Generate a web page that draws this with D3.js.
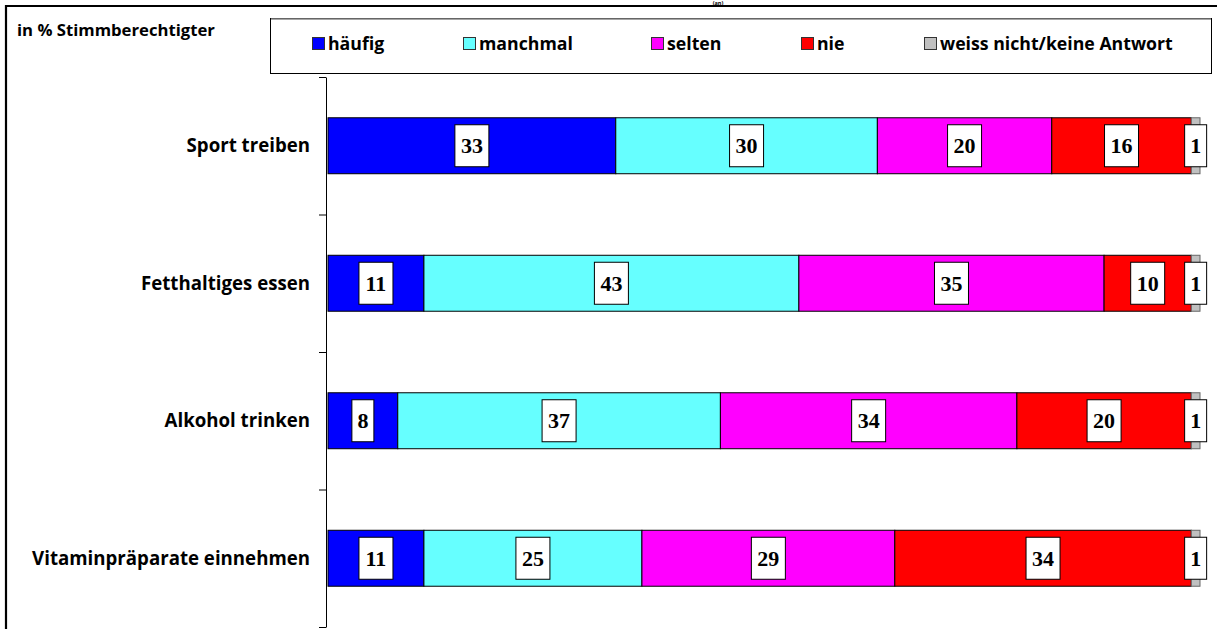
<!DOCTYPE html>
<html>
<head>
<meta charset="utf-8">
<script src="https://cdn.jsdelivr.net/npm/d3@7/dist/d3.min.js"></script>
<style>
  html, body { margin: 0; padding: 0; background: #fff; }
  svg { display: block; }
</style>
</head>
<body>
<svg id="chart" width="1217" height="629"></svg>
<script>
// ---- data ----
const categories = ["Sport treiben", "Fetthaltiges essen", "Alkohol trinken", "Vitaminpräparate einnehmen"];
const seriesNames = ["häufig", "manchmal", "selten", "nie", "weiss nicht/keine Antwort"];
const haeufig   = [33, 11, 8, 11];
const manchmal  = [30, 43, 37, 25];
const selten    = [20, 35, 34, 29];
const nie       = [16, 10, 20, 34];
const weissNicht = [1, 1, 1, 1];
const seriesColors = ["#0000ff", "#66ffff", "#ff00ff", "#ff0000", "#c0c0c0"];
const yAxisNote = "in % Stimmberechtigter";
const cutTitle = "(an)";

// ---- build table ----
const seriesValues = [haeufig, manchmal, selten, nie, weissNicht];
const table = categories.map((c, i) => {
  const row = { cat: c };
  seriesNames.forEach((s, j) => row[s] = seriesValues[j][i]);
  return row;
});
const stack = d3.stack().keys(seriesNames)(table);

const svg = d3.select("#chart");
const W = 1217, H = 629;
const FONT = "'Open Sans', sans-serif";

// fit a text element to a target width by adjusting font-size
function fitWidth(sel, target) {
  const n = sel.node();
  const fs = parseFloat(sel.attr("font-size"));
  const w = n.getComputedTextLength();
  if (w > 0) sel.attr("font-size", (fs * target / w).toFixed(2));
  return sel;
}

// small title remnant at the top edge
svg.append("text").attr("x", 718).attr("y", 5).attr("text-anchor", "middle")
  .attr("font-family", FONT).attr("font-weight", "bold").attr("font-size", 5.5)
  .text(cutTitle);

// outer frame
svg.append("path").attr("d", `M6,${H+2} L6,6 L${W+2},6`)
  .attr("fill", "none").attr("stroke", "#000").attr("stroke-width", 2.2);

// scales
const x = d3.scaleLinear().domain([0, 100]).range([328, 1200]);
const y = d3.scaleBand().domain(categories).range([77, 627]).paddingInner(0.593).paddingOuter(0.2965);

// axis with ticks between categories
const yTicks = d3.scaleLinear().domain([0, categories.length]).range([77, 627]);
const axis = svg.append("g").attr("transform", "translate(326,0)")
  .call(d3.axisLeft(yTicks).ticks(categories.length).tickFormat("").tickSize(7).tickSizeOuter(0));
axis.select(".domain").attr("stroke", "#000");
axis.selectAll(".tick line").attr("stroke", "#000");

// category labels
const catLabels = svg.append("g").selectAll("text").data(categories).join("text")
  .attr("x", 310).attr("y", d => y(d) + y.bandwidth() / 2)
  .attr("dy", "0.35em").attr("text-anchor", "end")
  .attr("font-family", FONT).attr("font-weight", "bold").attr("font-size", 17)
  .text(d => d);
{
  const longest = catLabels.filter(d => d === categories[3]);
  fitWidth(longest, 278);
  catLabels.attr("font-size", longest.attr("font-size"));
}

// bars
const layers = svg.append("g").selectAll("g").data(stack).join("g")
  .attr("fill", (d, i) => seriesColors[i]);
layers.selectAll("rect").data(d => d.map(v => ({ v, key: d.key }))).join("rect")
  .attr("x", d => x(d.v[0]))
  .attr("y", d => y(d.v.data.cat))
  .attr("width", d => x(d.v[1]) - x(d.v[0]))
  .attr("height", y.bandwidth())
  .attr("stroke", d => d.key === seriesNames[4] ? "#666" : "#000")
  .attr("stroke-width", 1);

// value labels
const labels = svg.append("g");
stack.forEach((layer) => {
  layer.forEach(d => {
    const val = d[1] - d[0];
    const txt = String(val);
    const bw = txt.length > 1 ? 34 : 22;
    const bh = 42;
    const cx = (x(d[0]) + x(d[1])) / 2;
    const cy = y(d.data.cat) + y.bandwidth() / 2;
    const g = labels.append("g").attr("transform", `translate(${cx},${cy})`);
    g.append("rect").attr("x", -bw / 2).attr("y", -bh / 2).attr("width", bw).attr("height", bh)
      .attr("fill", "#fff").attr("stroke", "#000").attr("stroke-width", 1);
    g.append("text").attr("text-anchor", "middle").attr("dy", "0.34em")
      .attr("font-family", "'Liberation Serif', serif").attr("font-weight", "bold").attr("font-size", 22)
      .text(txt);
  });
});

// note
fitWidth(svg.append("text").attr("x", 17).attr("y", 36)
  .attr("font-family", FONT).attr("font-weight", "bold").attr("font-size", 14)
  .text(yAxisNote), 198);

// legend
const lg = svg.append("g");
lg.append("rect").attr("x", 270.5).attr("y", 18.5).attr("width", 941).attr("height", 55)
  .attr("fill", "#fff").attr("stroke", "#000").attr("stroke-width", 1);
lg.append("line").attr("x1", 271).attr("x2", 1211).attr("y1", 19).attr("y2", 19)
  .attr("stroke", "#888").attr("stroke-width", 1.5);
const legendX = [312, 463, 651, 801, 924];
const items = lg.selectAll("g.item").data(seriesNames).join("g").attr("class", "item")
  .attr("transform", (d, i) => `translate(${legendX[i]},37)`);
items.append("rect").attr("x", 0.5).attr("y", 0.5).attr("width", 12).attr("height", 12)
  .attr("fill", (d, i) => seriesColors[i]).attr("stroke", "#333");
const legTexts = items.append("text").attr("x", 16).attr("y", 6.5).attr("dy", "0.35em")
  .attr("font-family", FONT).attr("font-weight", "bold").attr("font-size", 16)
  .text(d => d);
{
  const last = legTexts.filter(d => d === seriesNames[4]);
  fitWidth(last, 233);
  legTexts.attr("font-size", last.attr("font-size"));
}
</script>
</body>
</html>
